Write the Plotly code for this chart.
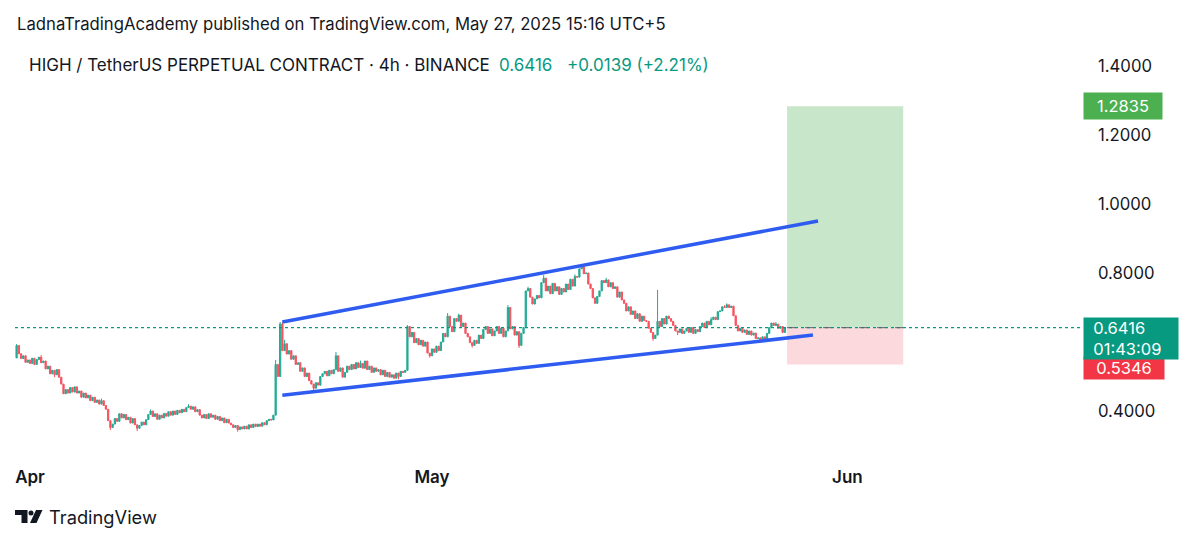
import pandas as pd
import plotly.graph_objects as go

# ---------------- data (4h candles, Mar 31 00:00 UTC -> May 27 08:00 UTC) ----------------
first_open = 0.554
close = [
    0.590, 0.566, 0.552, 0.560, 0.541, 0.548,   # Mar 31
    0.538, 0.553, 0.535, 0.549, 0.556, 0.540,   # Apr 1
    0.545, 0.522, 0.530, 0.508, 0.518, 0.505,
    0.520, 0.498, 0.478, 0.450, 0.462, 0.452,
    0.468, 0.455, 0.470, 0.452, 0.458, 0.440,
    0.452, 0.438, 0.446, 0.430, 0.440, 0.425,   # Apr 5
    0.432, 0.420, 0.430, 0.416, 0.405, 0.372,
    0.352, 0.362, 0.378, 0.370, 0.392, 0.380,
    0.390, 0.375, 0.382, 0.365, 0.378, 0.360,
    0.350, 0.358, 0.368, 0.360, 0.375, 0.390,
    0.400, 0.384, 0.392, 0.376, 0.388, 0.380,   # Apr 10
    0.393, 0.385, 0.398, 0.388, 0.400, 0.390,
    0.402, 0.395, 0.405, 0.398, 0.410, 0.414,
    0.405, 0.412, 0.398, 0.404, 0.388, 0.380,
    0.390, 0.378, 0.392, 0.382, 0.388, 0.376,
    0.384, 0.372, 0.380, 0.366, 0.376, 0.365,   # Apr 15
    0.360, 0.352, 0.358, 0.346, 0.354, 0.348,
    0.356, 0.348, 0.360, 0.352, 0.362, 0.355,
    0.362, 0.356, 0.366, 0.360, 0.372, 0.376,
    0.374, 0.388, 0.535, 0.500, 0.652, 0.575,   # Apr 19
    0.595, 0.565, 0.575, 0.550, 0.560, 0.535,   # Apr 20
    0.540, 0.515, 0.525, 0.500, 0.510, 0.488,
    0.478, 0.466, 0.482, 0.475, 0.500, 0.508,
    0.515, 0.502, 0.518, 0.508, 0.520, 0.560,
    0.515, 0.525, 0.498, 0.512, 0.530, 0.520,
    0.535, 0.522, 0.540, 0.526, 0.538, 0.524,   # Apr 25
    0.545, 0.520, 0.530, 0.512, 0.525, 0.515,
    0.520, 0.505, 0.518, 0.500, 0.512, 0.498,
    0.505, 0.495, 0.510, 0.500, 0.515, 0.512,
    0.518, 0.645, 0.615, 0.628, 0.598, 0.610,   # Apr 29
    0.592, 0.605, 0.588, 0.600, 0.568, 0.560,   # Apr 30
    0.580, 0.570, 0.588, 0.575, 0.600, 0.625,   # May 1
    0.615, 0.675, 0.645, 0.630, 0.668, 0.660,
    0.678, 0.645, 0.655, 0.625, 0.615, 0.598,
    0.590, 0.605, 0.596, 0.620, 0.610, 0.636,
    0.645, 0.625, 0.638, 0.618, 0.632, 0.645,   # May 5
    0.625, 0.640, 0.615, 0.632, 0.700, 0.638,
    0.645, 0.620, 0.630, 0.590, 0.625, 0.642,
    0.748, 0.755, 0.730, 0.710, 0.725, 0.735,   # May 8
    0.728, 0.772, 0.785, 0.748, 0.762, 0.740,
    0.770, 0.748, 0.760, 0.738, 0.755, 0.745,   # May 10
    0.768, 0.752, 0.782, 0.762, 0.790, 0.788,
    0.812, 0.818, 0.798, 0.800, 0.768, 0.755,   # May 12
    0.728, 0.712, 0.732, 0.748, 0.778, 0.772,
    0.780, 0.760, 0.772, 0.755, 0.760, 0.730,
    0.745, 0.722, 0.712, 0.690, 0.702, 0.680,   # May 15
    0.690, 0.668, 0.682, 0.660, 0.675, 0.662,
    0.660, 0.640, 0.628, 0.610, 0.620, 0.660,   # May 17
    0.645, 0.668, 0.652, 0.675, 0.668, 0.660,
    0.648, 0.632, 0.628, 0.638, 0.625, 0.632,
    0.640, 0.628, 0.642, 0.625, 0.636, 0.630,   # May 20
    0.645, 0.655, 0.642, 0.660, 0.650, 0.665,
    0.672, 0.665, 0.688, 0.690, 0.702, 0.700,
    0.708, 0.700, 0.704, 0.676, 0.648, 0.632,
    0.640, 0.628, 0.635, 0.622, 0.632, 0.620,
    0.626, 0.610, 0.612, 0.602, 0.615, 0.608,   # May 25
    0.625, 0.642, 0.655, 0.648, 0.652, 0.640,
    0.645, 0.6277, 0.6416,                       # May 27
]

wick_high = {
    "2025-03-31 00:00": 0.594, "2025-04-01 20:00": 0.562, "2025-04-06 08:00": 0.436,
    "2025-04-10 00:00": 0.405, "2025-04-12 20:00": 0.420, "2025-04-19 08:00": 0.548,
    "2025-04-19 16:00": 0.658, "2025-04-19 20:00": 0.658, "2025-04-20 00:00": 0.606,
    "2025-04-23 20:00": 0.571, "2025-04-25 16:00": 0.546, "2025-04-29 04:00": 0.649,
    "2025-05-02 04:00": 0.684, "2025-05-03 00:00": 0.682, "2025-05-06 16:00": 0.707,
    "2025-05-08 04:00": 0.760, "2025-05-09 08:00": 0.794, "2025-05-11 16:00": 0.796,
    "2025-05-12 04:00": 0.824, "2025-05-14 00:00": 0.786, "2025-05-17 20:00": 0.751,
    "2025-05-21 20:00": 0.672, "2025-05-22 20:00": 0.707, "2025-05-23 00:00": 0.712,
    "2025-05-26 16:00": 0.658,
}
wick_low = {
    "2025-04-02 20:00": 0.498, "2025-04-07 00:00": 0.345, "2025-04-09 00:00": 0.342,
    "2025-04-16 12:00": 0.340, "2025-04-22 04:00": 0.458, "2025-04-28 12:00": 0.492,
    "2025-04-30 20:00": 0.555, "2025-05-04 00:00": 0.584, "2025-05-07 12:00": 0.583,
    "2025-05-16 18:00": 0.655, "2025-05-17 12:00": 0.604, "2025-05-19 08:00": 0.620,
    "2025-05-25 12:00": 0.598, "2025-05-25 20:00": 0.600,
}

last_price = 0.6416
change_txt = "+0.0139 (+2.21%)"
target_price = 1.2835
stop_price = 0.5346
countdown = "01:43:09"

upper_line = (["2025-04-19 20:00", "2025-05-29 19:26"], [0.658, 0.951])
lower_line = (["2025-04-19 20:00", "2025-05-29 10:20"], [0.446, 0.620])
box_x = ["2025-05-27 12:00", "2025-06-05 04:00"]

ytick_vals = [0.4, 0.8, 1.0, 1.2, 1.4]
xtick_vals = ["2025-04-01", "2025-05-01", "2025-06-01"]
xtick_text = ["Apr", "May", "Jun"]

# ---------------- build candles ----------------
times = pd.date_range("2025-03-31 00:00", periods=len(close), freq="4h")
keys = [t.strftime("%Y-%m-%d %H:%M") for t in times]
opens = [first_open] + close[:-1]
highs = [max(wick_high.get(k, 0), o, c) for k, o, c in zip(keys, opens, close)]
lows = [min(wick_low.get(k, 9), o, c) for k, o, c in zip(keys, opens, close)]

UP, DN = "#22ab94", "#f7525f"
TXT = "#131722"
FONT = "Inter, Roboto, sans-serif"

L, R, T, B = 15, 1080, 45, 460
def px(x): return (x - L) / (R - L)
def py(y): return (B - y) / (B - T)

fig = go.Figure(go.Candlestick(
    x=times, open=opens, high=highs, low=lows, close=close,
    increasing=dict(line=dict(color=UP, width=1), fillcolor=UP),
    decreasing=dict(line=dict(color=DN, width=1), fillcolor=DN),
    whiskerwidth=0, hoverinfo="skip",
))

shapes = [
    dict(type="rect", xref="x", yref="y", x0=box_x[0], x1=box_x[1], y0=last_price, y1=target_price,
         fillcolor="#c8e6c9", line=dict(width=0), layer="below"),
    dict(type="rect", xref="x", yref="y", x0=box_x[0], x1=box_x[1], y0=stop_price, y1=last_price,
         fillcolor="#fcd9dc", line=dict(width=0), layer="below"),
    dict(type="line", xref="paper", yref="y", x0=0, x1=1, y0=last_price, y1=last_price,
         line=dict(color="#089981", width=1.2, dash="dot")),
    dict(type="line", xref="x", yref="y", x0=box_x[0], x1=box_x[1], y0=last_price, y1=last_price,
         line=dict(color="#5d606b", width=1, dash="dash")),
    dict(type="line", xref="x", yref="y", x0=upper_line[0][0], x1=upper_line[0][1],
         y0=upper_line[1][0], y1=upper_line[1][1], line=dict(color="#2f5cf0", width=3.5)),
    dict(type="line", xref="x", yref="y", x0=lower_line[0][0], x1=lower_line[0][1],
         y0=lower_line[1][0], y1=lower_line[1][1], line=dict(color="#2f5cf0", width=3.5)),
]

# TradingView logo (pixel-drawn)
def P(x, y): return f"{px(x):.5f},{py(y):.5f}"
logo_col = "#131722"
shapes += [
    dict(type="path", xref="paper", yref="paper",
         path=f"M{P(15,510)} L{P(27.5,510)} L{P(27.5,523)} L{P(21.5,523)} L{P(21.5,515)} L{P(15,515)} Z",
         fillcolor=logo_col, line=dict(width=0)),
    dict(type="circle", xref="paper", yref="paper", x0=px(28.5), x1=px(33.5), y0=py(515.5), y1=py(510.5),
         fillcolor=logo_col, line=dict(width=0)),
    dict(type="path", xref="paper", yref="paper",
         path=f"M{P(36,510)} L{P(42.5,510)} L{P(36.5,523)} L{P(30,523)} Z",
         fillcolor=logo_col, line=dict(width=0)),
]

ann = [
    dict(text="LadnaTradingAcademy published on TradingView.com, May 27, 2025 15:16 UTC+5",
         xref="paper", yref="paper", x=px(15), y=py(24), xanchor="left", yanchor="middle",
         showarrow=False, font=dict(size=16.7, color=TXT, family=FONT)),
    dict(text="HIGH / TetherUS PERPETUAL CONTRACT · 4h · BINANCE",
         xref="paper", yref="paper", x=px(27), y=py(65), xanchor="left", yanchor="middle",
         showarrow=False, font=dict(size=17, color=TXT, family=FONT)),
    dict(text=f"{last_price:.4f}", xref="paper", yref="paper", x=px(497), y=py(65),
         xanchor="left", yanchor="middle", showarrow=False, font=dict(size=17, color="#089981", family=FONT)),
    dict(text=change_txt, xref="paper", yref="paper", x=px(565), y=py(65),
         xanchor="left", yanchor="middle", showarrow=False, font=dict(size=17, color="#089981", family=FONT)),
    dict(text="TradingView", xref="paper", yref="paper", x=px(47), y=py(517), xanchor="left",
         yanchor="middle", showarrow=False, font=dict(size=18.3, color=TXT, family=FONT)),
    # price scale labels
    dict(text=f"{target_price:.4f}", xref="paper", yref="y", x=px(1083), y=target_price,
         xanchor="left", yanchor="middle", showarrow=False, bgcolor="#4caf50", borderpad=3,
         width=72, align="center", font=dict(size=16.5, color="white", family=FONT)),
    dict(text=f"{stop_price:.4f}", xref="paper", yref="paper", x=px(1083), y=py(368),
         xanchor="left", yanchor="middle", showarrow=False, bgcolor="#f23645", borderpad=1,
         width=78, align="center", font=dict(size=16.5, color="white", family=FONT)),
    dict(text=f"&nbsp;&nbsp;{last_price:.4f}<br>&nbsp;&nbsp;{countdown}", xref="paper", yref="paper",
         x=px(1083), y=py(338), xanchor="left", yanchor="middle", showarrow=False,
         bgcolor="#089981", borderpad=0, width=94, align="left",
         font=dict(size=16.5, color="white", family=FONT)),
]

fig.update_layout(
    width=1200, height=544,
    margin=dict(l=L, r=1200 - R, t=T, b=544 - B),
    paper_bgcolor="white", plot_bgcolor="white",
    showlegend=False, boxgap=0.2,
    shapes=shapes, annotations=ann,
    font=dict(family=FONT, color=TXT),
    xaxis=dict(type="date", range=["2025-03-30 21:08", "2025-06-18 08:38"],
               tickvals=xtick_vals, ticktext=xtick_text, showgrid=False, zeroline=False,
               showline=False, ticks="", ticklabelstandoff=5,
               tickfont=dict(size=17, color=TXT, family=FONT, weight=600),
               rangeslider=dict(visible=False), fixedrange=True),
    yaxis=dict(side="right", range=[0.2580, 1.4609], tickvals=ytick_vals,
               ticktext=[f"{v:.4f}" for v in ytick_vals], showgrid=False, zeroline=False,
               showline=False, ticks="", ticklabelstandoff=17,
               tickfont=dict(size=16.7, color=TXT, family=FONT), fixedrange=True),
)

fig.write_html("out.html", config={"displayModeBar": False},
               post_script="document.body.style.margin='0px';")
